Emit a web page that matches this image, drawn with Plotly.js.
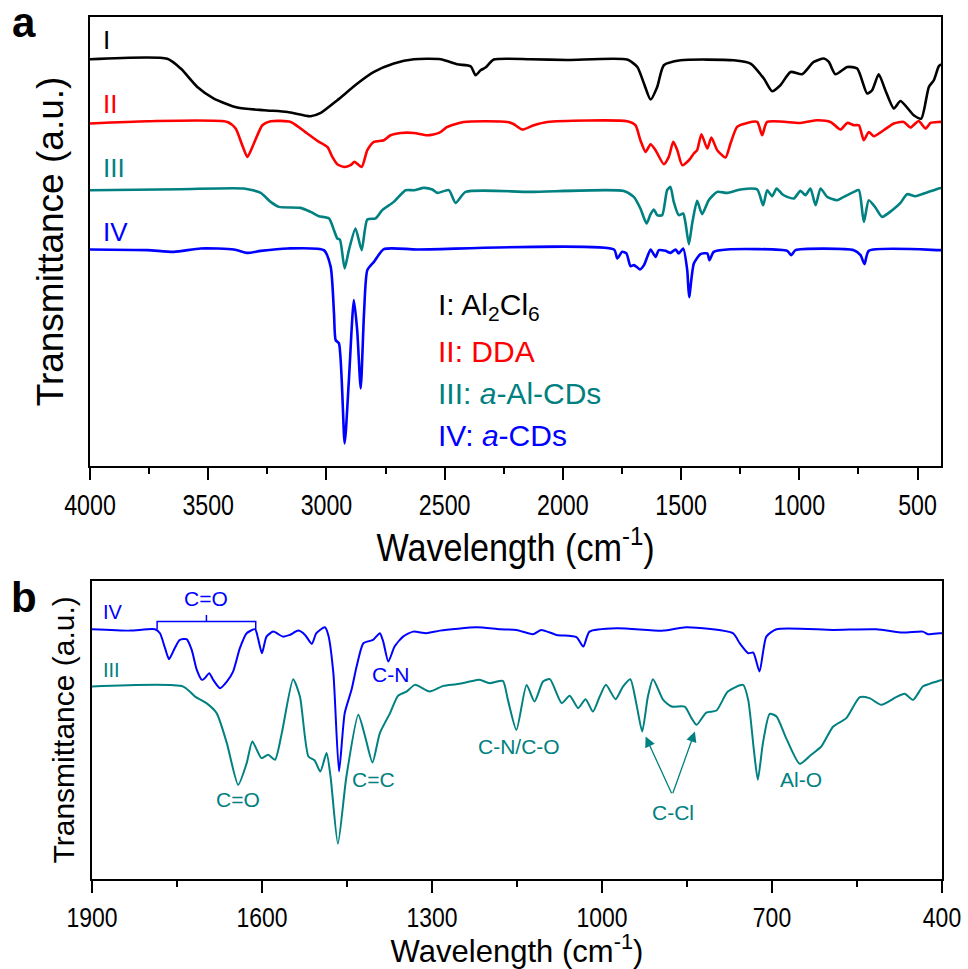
<!DOCTYPE html>
<html><head><meta charset="utf-8">
<script src="https://cdn.plot.ly/plotly-3.0.1.min.js"></script>
<style>html,body{margin:0;padding:0;background:#fff}</style>
</head><body><div id="chart" style="width:968px;height:969px"></div>
<script>
// ---------- Panel a : full-range FTIR spectra (a.u., stacked) ----------
const wnI = [4000,3673,3616,3546,3476,3377,3264,3165,3067,3024,2954,2869,2799,2715,2630,2517,2447,2390,2369,2348,2327,2292,2137,1981,1728,1685,1657,1629,1601,1573,1502,1277,1206,1150,1115,1080,1037,988,939,896,875,847,797,755,713,692,664,636,600,572,516,484,452,431,410,400];
const tI  = [407,407.5,397.7,379.3,367.7,358.7,356,354.3,350,353.3,366,382.7,394.3,402.7,407,407,402,400,391,396,398.7,406.7,407,406.3,406.7,399.3,382.7,366.7,379.3,401,406,406,402.7,387.7,375,381,394.3,392,404.3,407.7,404.3,392,399.3,397.7,372.7,376,392,376,357.7,365.3,351,347.7,379.3,386,400,402];

const wnII = [4000,3757,3419,3384,3356,3334,3307,3271,3236,3151,3081,3038,2996,2975,2954,2926,2898,2881,2851,2827,2799,2757,2729,2686,2630,2573,2524,2489,2419,2235,2207,2172,2123,2066,1728,1693,1672,1650,1629,1608,1573,1552,1533,1516,1495,1467,1446,1432,1414,1389,1372,1347,1312,1291,1263,1220,1178,1157,1136,995,924,868,826,797,769,748,727,706,685,643,600,558,530,495,466,445,410,400];
const tII  = [342.7,345,344.3,337.7,321,309.3,322.7,341,345,344.3,332.7,325.3,319.3,309.3,302,299.3,301,304.3,299.3,316,324.3,326,331,333.3,333.3,331,333.3,339.3,344.3,344.3,342,336.7,341,344.3,345,341,326,314.3,322,316,302,309.3,324.3,316,301,306,312.7,316,332,317.7,328.7,316,308.7,322.7,339.3,343.3,344.3,331,344.3,343.3,346,344.3,336.7,343.3,341,341,326,334.3,330,336,342.7,344.3,338.7,345.3,337.7,343.3,344.3,344.3];

const wnIII = [4000,3616,3349,3278,3236,3201,3109,3067,3032,2989,2968,2954,2943,2923,2905,2877,2851,2827,2792,2764,2715,2665,2630,2588,2552,2531,2482,2454,2411,2137,1742,1700,1672,1646,1629,1615,1601,1580,1559,1545,1531,1510,1491,1481,1467,1453,1432,1411,1383,1347,1305,1249,1178,1153,1136,1115,1096,1072,1051,1023,995,974,953,931,910,882,840,812,769,748,727,706,678,650,607,572,544,509,466,431,410,400];
const tIII  = [276,277,277.7,273.3,264.3,259.3,258.3,254.3,250,247.7,236,227.7,226.7,197.7,216,237.7,216,246.7,247.7,256,264.3,276,276,278.3,276.7,273.3,276,263.3,274.3,274.3,275.3,269.3,257.7,242.7,252,256.7,251,251,276,279.3,264.3,251,252.7,242.7,222,242.7,265.3,252,266,274.3,273.3,276.7,276.7,261,276,270,277.7,272,269.3,267.7,275.3,271,277.7,261,277.7,269.3,266,269.3,274.3,276,244.3,266,258.7,249.3,256,263.3,272,270,273.3,276,277.7,278.3];

const wnIV = [4000,3757,3645,3532,3391,3334,3278,3165,3011,2982,2968,2961,2947,2923,2905,2884,2870,2855,2841,2827,2799,2757,2616,1784,1770,1749,1731,1714,1700,1685,1674,1657,1643,1629,1608,1594,1566,1545,1523,1510,1491,1474,1466,1446,1418,1389,1380,1362,1305,1051,1034,1016,769,741,724,706,410,400];
const tIV  = [216.7,216,214.3,217.7,216.7,213.3,215.3,217.7,216,199.3,152.7,126,122.7,22.7,86,166,136,77.7,152.7,196,204.3,217,216.7,216.7,207.7,214.3,212.7,200,201,198.7,196.7,201,209.3,216.7,209.3,216,215.3,213.3,216.7,212.7,217.7,196,169,202.7,212,212.7,206,214.3,216.7,215.3,211,216,216,211,202,215.3,216,216];

// ---------- Panel b : 1900-400 cm-1 detail ----------
const wnB_IV = [1900,1833,1789,1780,1771,1764,1754,1745,1733,1724,1715,1706,1701,1693,1686,1674,1662,1651,1639,1627,1612,1607,1600,1592,1580,1563,1551,1536,1524,1512,1504,1489,1483,1474,1464,1454,1442,1433,1421,1404,1392,1386,1377,1366,1351,1333,1310,1286,1221,1180,1151,1122,1107,1080,1045,1033,1022,974,892,851,769,757,742,733,722,710,692,592,516,469,434,425,404,400];
const tB_IV  = [250.7,249.3,250.7,246.7,231.7,220.7,231.7,240,240.7,230,210,200,201.7,206.7,200,191.7,198.3,208.3,231.7,246.7,250.7,241.7,226.7,243.3,248.3,243.3,245,249.3,245,236,246.7,252.7,245,206.7,108.3,166.7,190,213.3,236.7,240,246.7,238.3,218.3,233.3,243.3,248.3,246.7,249.3,252.7,250.7,250,245.7,250,245,242.7,233.3,248.3,251.7,249.3,252.7,246.7,236.7,226.7,227.3,208.3,243.3,250.7,250,250.7,247.3,248.3,245.7,246.7,246.7];

const wnB_III = [1900,1739,1718,1698,1680,1662,1642,1627,1617,1601,1589,1577,1565,1545,1533,1518,1507,1497,1486,1479,1466,1451,1430,1418,1405,1392,1374,1360,1345,1330,1304,1280,1257,1233,1216,1198,1175,1166,1151,1133,1119,1104,1092,1071,1057,1042,1029,1016,1004,993,976,963,950,939,929,919,910,892,877,854,842,833,816,798,778,751,742,732,725,716,704,692,675,651,631,613,592,569,545,528,507,481,466,451,434,422,404,400];
const tB_III  = [193.3,193.3,183.3,176.7,166.7,136.7,95,116.7,138.3,121.7,125,120,146.7,200.7,183.3,123.3,119.3,108.3,126.7,103.3,36,103.3,165,143.3,117.3,146.7,166.7,184,188.3,195,188.3,194,195.7,198.3,200,196.7,199,180,150,195,178.3,198.3,200.7,176.7,184,171.7,180.7,168.3,183.3,195,180.7,193.3,200.7,175,148.3,183.3,200.7,180,173.3,173.3,161.7,155,167.3,169.3,188.3,195,180,130,100,136.7,166,163.3,141.7,116,125,133.3,153.3,161.7,182.7,181.7,175,182.7,186,180,193.3,196,199.3,200];

// ---------- text ----------
const seriesNames = ['I','II','III','IV'];
const legendTexts = ['I: Al<sub>2</sub>Cl<sub>6</sub>','II: DDA','III: <i>a</i>-Al-CDs','IV: <i>a</i>-CDs'];
const bandLabels = ['C=O','C-N','C=O','C=C','C-N/C-O','C-Cl','Al-O'];
const xTitle = 'Wavelength (cm<sup>-1</sup>)';
const yTitle = 'Transmittance (a.u.)';

const BLACK='#000000', RED='#FF0000', TEAL='#008080', BLUE='#0000FF';
const colors = [BLACK, RED, TEAL, BLUE];
const arial = 'Liberation Sans, Arial, sans-serif';

const sm = 0.6;
const traces = [
  {x: wnI, y: tI, xaxis:'x', yaxis:'y', mode:'lines', line:{color:BLACK,width:2.6,shape:'spline',smoothing:sm}},
  {x: wnII, y: tII, xaxis:'x', yaxis:'y', mode:'lines', line:{color:RED,width:2.6,shape:'spline',smoothing:sm}},
  {x: wnIII, y: tIII, xaxis:'x', yaxis:'y', mode:'lines', line:{color:TEAL,width:2.6,shape:'spline',smoothing:sm}},
  {x: wnIV, y: tIV, xaxis:'x', yaxis:'y', mode:'lines', line:{color:BLUE,width:2.6,shape:'spline',smoothing:sm}},
  {x: wnB_IV, y: tB_IV, xaxis:'x2', yaxis:'y2', mode:'lines', line:{color:BLUE,width:2,shape:'spline',smoothing:sm}},
  {x: wnB_III, y: tB_III, xaxis:'x2', yaxis:'y2', mode:'lines', line:{color:TEAL,width:2,shape:'spline',smoothing:sm}}
];

const axCommon = {showline:true, mirror:true, linecolor:'black', linewidth:2, showgrid:false, zeroline:false};

const ann = [];
// panel letters
ann.push({xref:'paper',yref:'paper',x:-0.078,y:0.994,text:'<b>a</b>',showarrow:false,font:{family:arial,size:42,color:'black'},xanchor:'center',yanchor:'middle'});
ann.push({xref:'paper',yref:'paper',x:-0.078,y:0.327,text:'<b>b</b>',showarrow:false,font:{family:arial,size:42,color:'black'},xanchor:'center',yanchor:'middle'});
// panel a series labels
const labAy = [426, 362.7, 298, 234.3];
for (let i=0;i<4;i++) ann.push({xref:'x',yref:'y',x:3955,y:labAy[i],text:seriesNames[i],showarrow:false,xanchor:'left',yanchor:'middle',font:{family:arial,size:26,color:colors[i]}});
// panel a legend texts
const legY = [159.3, 114.3, 72.7, 31];
for (let i=0;i<4;i++) ann.push({xref:'x',yref:'y',x:2535,y:legY[i],text:legendTexts[i],showarrow:false,xanchor:'left',yanchor:'middle',font:{family:arial,size:30,color:colors[i]}});
// panel b series labels
ann.push({xref:'x2',yref:'y2',x:1884,y:268.3,text:'IV',showarrow:false,xanchor:'left',yanchor:'middle',font:{family:arial,size:20,color:BLUE}});
ann.push({xref:'x2',yref:'y2',x:1884,y:210,text:'III',showarrow:false,xanchor:'left',yanchor:'middle',font:{family:arial,size:20,color:TEAL}});
// band labels
const bandPos = [[1698,281.7,BLUE],[1374,205,BLUE],[1642,80.7,TEAL],[1404,100.7,TEAL],[1146,133.3,TEAL],[875,67.3,TEAL],[648,100,TEAL]];
bandPos.forEach((p,i)=>ann.push({xref:'x2',yref:'y2',x:p[0],y:p[1],text:bandLabels[i],showarrow:false,xanchor:'center',yanchor:'middle',font:{family:arial,size:21,color:p[2]}}));
// C-Cl arrows
[[923,143.3],[836,148.3]].forEach(t=>ann.push({xref:'x2',yref:'y2',x:t[0],y:t[1],axref:'x2',ayref:'y2',ax:876,ay:85,text:'',showarrow:true,arrowhead:2,arrowsize:1.6,arrowwidth:1.3,arrowcolor:TEAL}));

const shapes = [
  {type:'path', xref:'x2', yref:'y2', path:'M1785,250.7 L1785,258.3 L1611,258.3 L1611,250.7', line:{color:BLUE,width:1.5}},
  {type:'line', xref:'x2', yref:'y2', x0:1698, x1:1698, y0:258.3, y1:265, line:{color:BLUE,width:1.5}}
];

const layout = {
  width:968, height:969,
  margin:{l:90, r:26, t:17, b:90},
  paper_bgcolor:'white', plot_bgcolor:'white',
  showlegend:false,
  xaxis: Object.assign({}, axCommon, {domain:[0,0.999], anchor:'y', range:[4000,400], tick0:0, dtick:500,
    ticks:'outside', ticklen:12, tickwidth:2, tickcolor:'black',
    minor:{dtick:250, tick0:0, ticks:'outside', ticklen:6, tickwidth:2, tickcolor:'black'},
    tickfont:{family:arial, size:29, color:'black'},
    title:{text:xTitle, font:{family:arial, size:38, color:'black'}, standoff:4}}),
  yaxis: Object.assign({}, axCommon, {domain:[0.4791,1], anchor:'x', range:[0,449.3], showticklabels:false, ticks:'',
    title:{text:yTitle, font:{family:arial, size:37, color:'black'}, standoff:13}}),
  xaxis2: Object.assign({}, axCommon, {domain:[0.0023,1], anchor:'y2', range:[1900,400], tick0:400, dtick:300,
    ticks:'outside', ticklen:12, tickwidth:2, tickcolor:'black',
    minor:{dtick:150, tick0:400, ticks:'outside', ticklen:6, tickwidth:2, tickcolor:'black'},
    tickfont:{family:arial, size:28, color:'black'},
    title:{text:xTitle, font:{family:arial, size:32, color:'black'}, standoff:10}}),
  yaxis2: Object.assign({}, axCommon, {domain:[0,0.3461], anchor:'x2', range:[0.7,299.3], showticklabels:false, ticks:'',
    title:{text:yTitle, font:{family:arial, size:30, color:'black'}, standoff:6}}),
  annotations: ann,
  shapes: shapes
};

// horizontally condense the x-axis texts (the reference uses a narrow face)
function condense(selector, s) {
  document.querySelectorAll(selector).forEach(t => {
    const bb = t.getBBox();
    const cx = bb.x + bb.width / 2;
    const tr = t.getAttribute('transform') || '';
    t.setAttribute('transform', tr + ' translate(' + cx + ',0) scale(' + s + ',1) translate(' + (-cx) + ',0)');
  });
}

Plotly.newPlot('chart', traces, layout, {displayModeBar:false, staticPlot:true}).then(() => {
  condense('.xtick text', 0.8);
  condense('.x2tick text', 0.82);
  condense('.xtitle', 0.9);
  condense('.x2title', 0.97);
});
</script>
</body></html>
